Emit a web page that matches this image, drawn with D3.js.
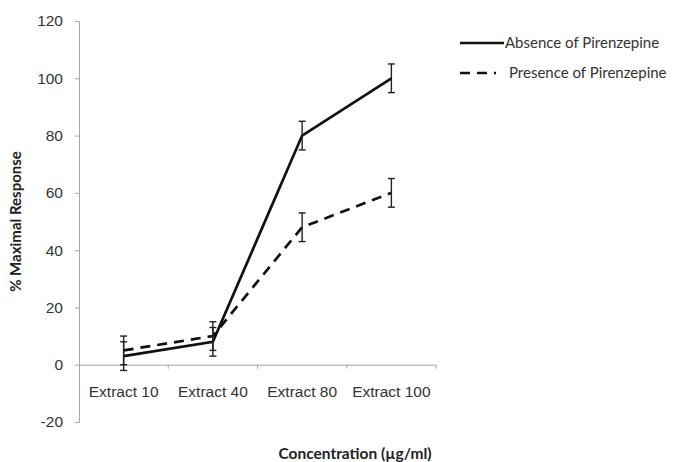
<!DOCTYPE html>
<html>
<head>
<meta charset="utf-8">
<script src="https://cdn.jsdelivr.net/npm/d3@7"></script>
<style>
  body { margin: 0; background: #fff; }
  svg { font-family: Lato, "Open Sans", sans-serif; }
</style>
</head>
<body>
<div id="chart"></div>
<script>
// data
let categories = ["Extract 10", "Extract 40", "Extract 80", "Extract 100"];
let absenceValues = [3, 8, 80, 100];
let absenceErrors = [5, 5, 5, 5];
let presenceValues = [5, 10, 48, 60];
let presenceErrors = [5, 5, 5, 5];
let yTicks = [-20, 0, 20, 40, 60, 80, 100, 120];
let seriesNames = ["Absence of Pirenzepine", "Presence of Pirenzepine"];

let config = {
  width: 673,
  height: 462,
  left: 79,
  right: 436,
  top: 21,
  bottom: 422,
  axisColor: "#a6a6a6",
  textColor: "#333333",
  lineWidth: 2.7
};

let svg = d3.select("#chart").append("svg")
  .attr("width", config.width)
  .attr("height", config.height);

let x = d3.scaleBand()
  .domain(categories)
  .range([config.left, config.right]);

let y = d3.scaleLinear()
  .domain([-20, 120])
  .range([config.bottom, config.top]);

// y axis
let yAxis = svg.append("g")
  .attr("transform", `translate(${config.left},0)`)
  .call(d3.axisLeft(y).tickValues(yTicks).tickFormat(d => String(d)).tickSize(4).tickPadding(12));
yAxis.select(".domain").attr("stroke", config.axisColor);
yAxis.selectAll(".tick line").attr("stroke", config.axisColor);
yAxis.selectAll(".tick text")
  .attr("fill", config.textColor)
  .style("font-size", "15.5px");

// x axis sits on zero
let xAxis = svg.append("g")
  .attr("transform", `translate(0,${y(0)})`)
  .call(d3.axisBottom(x).tickSize(0).tickPadding(21));
xAxis.select(".domain").attr("stroke", config.axisColor);
xAxis.selectAll(".tick text")
  .attr("fill", config.textColor)
  .style("font-size", "15.5px");

// category separator ticks
xAxis.selectAll(".sep")
  .data(categories)
  .enter()
  .append("line")
  .attr("x1", (d, i) => x(categories[0]) + x.bandwidth() * (i + 1))
  .attr("x2", (d, i) => x(categories[0]) + x.bandwidth() * (i + 1))
  .attr("y1", 0)
  .attr("y2", 4)
  .attr("stroke", config.axisColor);

// axis titles
svg.append("text")
  .attr("transform", `translate(21,${(y(120) + y(-20)) / 2}) rotate(-90)`)
  .attr("text-anchor", "middle")
  .style("font-size", "15px")
  .style("font-weight", "bold")
  .attr("fill", "#222")
  .text("% Maximal Response");

svg.append("text")
  .attr("x", 355)
  .attr("y", 459)
  .attr("text-anchor", "middle")
  .style("font-size", "15.5px")
  .style("font-weight", "bold")
  .attr("fill", "#222")
  .text("Concentration (\u00b5g/ml)");

let cx = d => x(d) + x.bandwidth() / 2;

let series = [
  { name: seriesNames[0], values: absenceValues, errors: absenceErrors, dash: null },
  { name: seriesNames[1], values: presenceValues, errors: presenceErrors, dash: "10,7" }
];

let line = d3.line()
  .x(d => cx(d.cat))
  .y(d => y(d.v));

series.forEach(s => {
  let pts = categories.map((c, i) => ({ cat: c, v: s.values[i], e: s.errors[i] }));

  svg.append("path")
    .datum(pts)
    .attr("d", line)
    .attr("fill", "none")
    .attr("stroke", "#111")
    .attr("stroke-width", config.lineWidth)
    .attr("stroke-dasharray", s.dash);

  // error bars
  let eb = svg.append("g").selectAll("g")
    .data(pts)
    .enter()
    .append("g")
    .attr("stroke", "#222")
    .attr("stroke-width", 1.4);
  eb.append("line")
    .attr("x1", d => cx(d.cat)).attr("x2", d => cx(d.cat))
    .attr("y1", d => y(d.v - d.e)).attr("y2", d => y(d.v + d.e));
  eb.append("line")
    .attr("x1", d => cx(d.cat) - 3.5).attr("x2", d => cx(d.cat) + 3.5)
    .attr("y1", d => y(d.v + d.e)).attr("y2", d => y(d.v + d.e));
  eb.append("line")
    .attr("x1", d => cx(d.cat) - 3.5).attr("x2", d => cx(d.cat) + 3.5)
    .attr("y1", d => y(d.v - d.e)).attr("y2", d => y(d.v - d.e));
});

// legend
let legend = svg.append("g")
  .selectAll("g")
  .data(series)
  .enter()
  .append("g")
  .attr("transform", (d, i) => `translate(460,${43 + i * 30})`);
legend.append("line")
  .attr("x1", 0)
  .attr("x2", d => d.dash ? 36 : 44)
  .attr("y1", 0).attr("y2", 0)
  .attr("stroke", "#111")
  .attr("stroke-width", config.lineWidth)
  .attr("stroke-dasharray", d => d.dash);
legend.append("text")
  .attr("x", d => d.dash ? 49 : 45)
  .attr("y", 5)
  .style("font-size", "15px")
  .attr("fill", "#333")
  .text(d => d.name);
</script>
</body>
</html>
